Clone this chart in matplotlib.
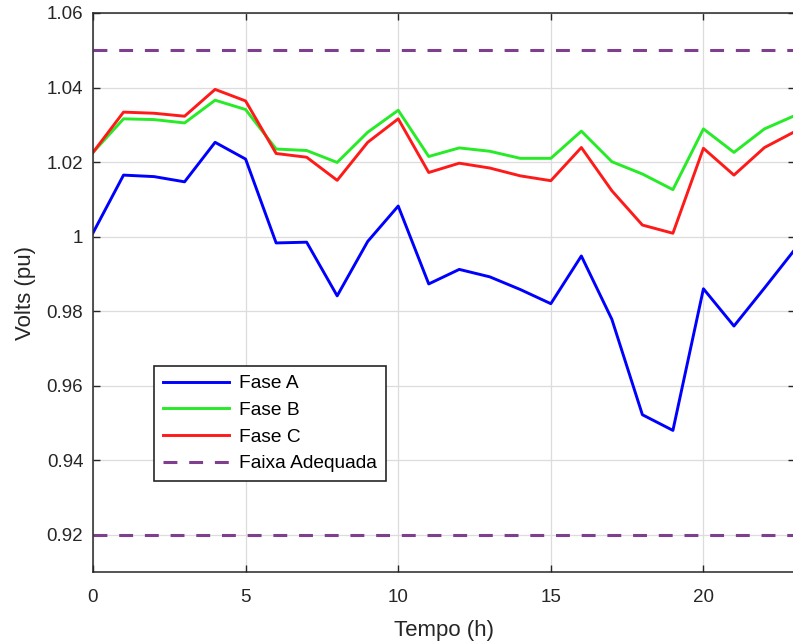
import matplotlib
matplotlib.use("Agg")
import matplotlib.pyplot as plt

# Data
# ----------------------------
hours = list(range(24))
faseA = [1.0010, 1.0165, 1.0161, 1.0147, 1.0253, 1.0208, 0.9983, 0.9985,
         0.9841, 0.9987, 1.0082, 0.9873, 0.9912, 0.9892, 0.9858, 0.9820,
         0.9948, 0.9778, 0.9522, 0.9480, 0.9860, 0.9760, 0.9862, 0.9966]
faseB = [1.0226, 1.0316, 1.0314, 1.0305, 1.0366, 1.0341, 1.0235, 1.0231,
         1.0199, 1.0280, 1.0339, 1.0215, 1.0238, 1.0229, 1.0210, 1.0210,
         1.0283, 1.0201, 1.0168, 1.0126, 1.0289, 1.0226, 1.0289, 1.0325]
faseC = [1.0226, 1.0334, 1.0331, 1.0323, 1.0395, 1.0364, 1.0223, 1.0213,
         1.0151, 1.0253, 1.0316, 1.0172, 1.0197, 1.0184, 1.0163, 1.0150,
         1.0239, 1.0123, 1.0031, 1.0009, 1.0237, 1.0165, 1.0239, 1.0282]
faixaLimites = [0.92, 1.05]
yTicks = [0.92, 0.94, 0.96, 0.98, 1.0, 1.02, 1.04, 1.06]
yTickLabels = ["0.92", "0.94", "0.96", "0.98", "1", "1.02", "1.04", "1.06"]
xTicks = [0, 5, 10, 15, 20]
# ----------------------------

plt.rcParams['font.family'] = ['Liberation Sans', 'DejaVu Sans']
plt.rcParams['lines.scale_dashes'] = False

fig = plt.figure(figsize=(7.93, 6.44), dpi=100)
ax = fig.add_axes([93/793, 72/644, 702/793, 559/644])

ax.plot(hours, faseA, color=(0, 0, 1), lw=2.1, label="Fase A")
ax.plot(hours, faseB, color=(0.15, 0.92, 0.15), lw=2.1, label="Fase B")
ax.plot(hours, faseC, color=(1, 0.1, 0.1), lw=2.1, label="Fase C")
for i, lim in enumerate(faixaLimites):
    ax.axhline(lim, color="#7E3F8E", lw=2.2, dashes=(10, 8.5),
               label="Faixa Adequada" if i == 0 else None)

ax.set_xlim(0, 23)
ax.set_ylim(0.91, 1.06)
ax.set_xticks(xTicks)
ax.set_yticks(yTicks)
ax.set_yticklabels(yTickLabels)
ax.grid(True, color="#dcdcdc", lw=0.9)
ax.set_axisbelow(True)

tickColor = "#262626"
ax.tick_params(direction="in", length=5, width=1, colors=tickColor,
               labelsize=13.5, top=True, right=True)
ax.tick_params(axis="x", pad=12)
ax.tick_params(axis="y", pad=7)
for s in ax.spines.values():
    s.set_color(tickColor)
    s.set_linewidth(1.1)

ax.set_xlabel("Tempo (h)", fontsize=16, color=tickColor, labelpad=10)
ax.set_ylabel("Volts (pu)", fontsize=16, color=tickColor, labelpad=8)

leg = ax.legend(loc="lower left", bbox_to_anchor=(0.087, 0.163),
                fontsize=13.8, handlelength=3.45, handletextpad=0.55,
                labelspacing=0.48, borderpad=0.45, borderaxespad=0,
                fancybox=False, framealpha=1, edgecolor="#262626")
leg.get_frame().set_linewidth(1.2)

fig.savefig("out.png", dpi=100)
